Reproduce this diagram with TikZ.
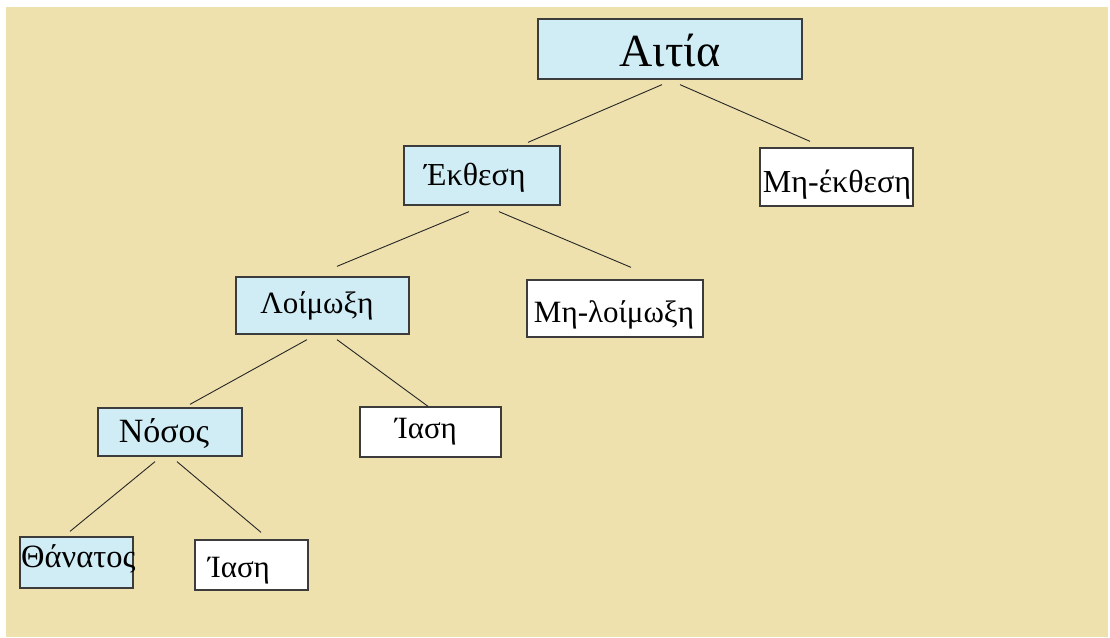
\documentclass[tikz,border=0pt]{standalone}
\usepackage{fontspec}
\setmainfont{Liberation Serif}
\usetikzlibrary{calc}
\definecolor{bg}{RGB}{238,225,174}
\definecolor{lblue}{RGB}{208,237,246}
\definecolor{edgegray}{RGB}{60,60,60}
\begin{document}
\begin{tikzpicture}[x=1pt,y=-1pt,
  boxbase/.style={draw=edgegray, line width=1.3pt, inner sep=0pt, rectangle},
  bluebox/.style={boxbase, fill=lblue},
  whitebox/.style={boxbase, fill=white},
  conn/.style={draw=black!85, line width=0.9pt},
  lbl/.style={inner sep=0pt, anchor=base, text=black},
  big/.style={font=\fontsize{46}{52}\selectfont},
  mid/.style={font=\fontsize{31}{36}\selectfont}]
\useasboundingbox (0,0) rectangle (1110,637);
\fill[white] (0,0) rectangle (1110,637);
\fill[bg] (6,7) rectangle (1108,637);

% boxes
\node[bluebox, minimum width=264pt, minimum height=60pt] (aitia) at (670,49) {};
\node[bluebox, minimum width=156pt, minimum height=59pt] (ekthesi) at (482,175.5) {};
\node[whitebox, minimum width=153pt, minimum height=58pt] (miekthesi) at (836.5,177) {};
\node[bluebox, minimum width=173pt, minimum height=57pt] (loimoxi) at (322.5,305.5) {};
\node[whitebox, minimum width=176pt, minimum height=57pt] (miloimoxi) at (615,308.5) {};
\node[bluebox, minimum width=144pt, minimum height=48pt] (nosos) at (170,432) {};
\node[whitebox, minimum width=141pt, minimum height=50pt] (iasiA) at (430.5,432) {};
\node[bluebox, minimum width=113pt, minimum height=51pt] (thanatos) at (76.5,562.5) {};
\node[whitebox, minimum width=113pt, minimum height=50pt] (iasiB) at (251.5,565) {};

% labels
\node[lbl, big] (aitiaT) at (670,66) {Αιτία};
\node[lbl, font=\fontsize{32}{36}\selectfont] (ekthesiT) at (475,185) {Έκθεση};
\node[lbl, font=\fontsize{32}{36}\selectfont] (miekthesiT) at (837,192) {Μη-έκθεση};
\node[lbl, mid] (loimoxiT) at (317,313) {Λοίμωξη};
\node[lbl, mid] (miloimoxiT) at (614,322) {Μη-λοίμωξη};
\node[lbl, mid] (iasiAT) at (426,438) {Ίαση};
\node[lbl, font=\fontsize{34}{38}\selectfont] (nososT) at (164,442) {Νόσος};
\node[lbl, font=\fontsize{32.5}{36}\selectfont, anchor=base west] (thanatosT) at (21,567) {Θάνατος};
\node[lbl, mid] (iasiBT) at (239,577) {Ίαση};

% connectors
\draw[conn] ($(aitia.south)+(-8,5)$) -- ($(ekthesi.north)+(46,-3)$);
\draw[conn] ($(aitia.south)+(10,5)$) -- ($(miekthesi.north)+(-26.5,-6)$);
\draw[conn] ($(ekthesi.south)+(-13,6)$) -- ($(loimoxi.north)+(14.5,-10)$);
\draw[conn] ($(ekthesi.south)+(17,6)$) -- ($(miloimoxi.north)+(16,-12)$);
\draw[conn] ($(loimoxi.south)+(-15.5,5)$) -- ($(nosos.north)+(20,-3)$);
\draw[conn] ($(loimoxi.south)+(14.5,5)$) -- ($(iasiA.north)+(-2.5,0)$);
\draw[conn] ($(nosos.south)+(-15,5)$) -- ($(thanatos.north)+(-6.5,-5)$);
\draw[conn] ($(nosos.south)+(7,5)$) -- ($(iasiB.north)+(9.5,-7)$);
\end{tikzpicture}
\end{document}
